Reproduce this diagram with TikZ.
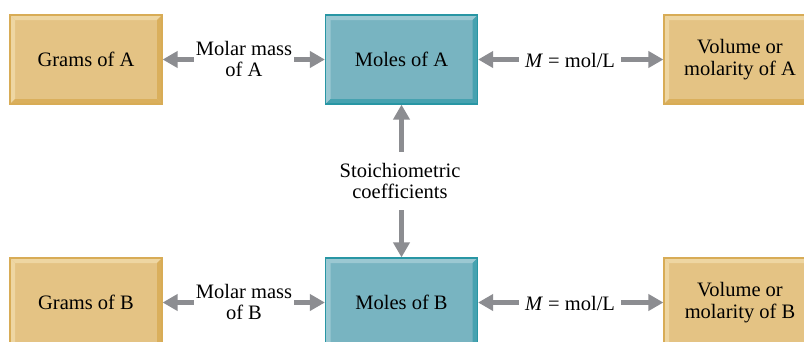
\documentclass[tikz,border=0pt]{standalone}
\usepackage{fontspec}
\setmainfont{Liberation Serif}
\usetikzlibrary{arrows.meta}
\definecolor{gfill}{RGB}{228,195,132}
\definecolor{gborder}{RGB}{216,172,86}
\definecolor{glight}{RGB}{238,214,162}
\definecolor{gdark}{RGB}{218,175,92}
\definecolor{tfill}{RGB}{120,180,193}
\definecolor{tborder}{RGB}{40,150,164}
\definecolor{tlight}{RGB}{155,200,210}
\definecolor{tdark}{RGB}{70,162,176}
\definecolor{arr}{RGB}{140,141,145}
\tikzset{
  bevelbox/.style n args={4}{
    minimum width=152pt, minimum height=89pt, inner sep=0pt,
    fill=#1, draw=#2, line width=1.2pt, align=center,
    path picture={
      \fill[#3] (path picture bounding box.north west) -- (path picture bounding box.north east)
        -- ([xshift=-5pt,yshift=-5pt]path picture bounding box.north east)
        -- ([xshift=5pt,yshift=-5pt]path picture bounding box.north west) -- cycle;
      \fill[#3] (path picture bounding box.north west) -- (path picture bounding box.south west)
        -- ([xshift=5pt,yshift=5pt]path picture bounding box.south west)
        -- ([xshift=5pt,yshift=-5pt]path picture bounding box.north west) -- cycle;
      \fill[#4] (path picture bounding box.south west) -- (path picture bounding box.south east)
        -- ([xshift=-5pt,yshift=5pt]path picture bounding box.south east)
        -- ([xshift=5pt,yshift=5pt]path picture bounding box.south west) -- cycle;
      \fill[#4] (path picture bounding box.north east) -- (path picture bounding box.south east)
        -- ([xshift=-5pt,yshift=5pt]path picture bounding box.south east)
        -- ([xshift=-5pt,yshift=-5pt]path picture bounding box.north east) -- cycle;
    }},
  goldbox/.style={bevelbox={gfill}{gborder}{glight}{gdark}},
  tealbox/.style={bevelbox={tfill}{tborder}{tlight}{tdark}},
  lbl/.style={align=center, inner sep=0pt},
  garrow/.style={draw=arr, line width=5.5pt, -{Triangle[width=16pt,length=15pt]}},
}
\begin{document}
\begin{tikzpicture}[x=1pt,y=-1pt,font=\fontsize{20.5}{21.5}\selectfont]
\useasboundingbox (0,0) rectangle (804,341);
\clip (0,0) rectangle (804,341);
\fill[white] (0,0) rectangle (804,341);
% boxes
\node[goldbox] (ga) at (86,59.5) {Grams of A};
\node[tealbox] (ma) at (401.5,59.5) {Moles of A};
\node[goldbox] (va) at (740,59.5) {Volume or\\molarity of A};
\node[goldbox] (gb) at (86,302.5) {Grams of B};
\node[tealbox] (mb) at (401.5,302.5) {Moles of B};
\node[goldbox] (vb) at (740,302.5) {Volume or\\molarity of B};
% labels
\node[lbl, minimum width=100pt] (mma) at (244,59) {Molar mass\\of A};
\node[lbl, minimum width=100pt] (mmb) at (244,302) {Molar mass\\of B};
\node[lbl, minimum width=102pt] (ra) at (570,60) {\textit{M} = mol/L};
\node[lbl, minimum width=102pt] (rb) at (570,303) {\textit{M} = mol/L};
\node[lbl, minimum height=58pt] (st) at (400,181) {Stoichiometric\\coefficients};
% arrows
\draw[garrow] (ga.east -| mma.west) -- (ga.east);
\draw[garrow] (ma.west -| mma.east) -- (ma.west);
\draw[garrow] (ma.east -| ra.west) -- (ma.east);
\draw[garrow] (va.west -| ra.east) -- (va.west);
\draw[garrow] (gb.east -| mmb.west) -- (gb.east);
\draw[garrow] (mb.west -| mmb.east) -- (mb.west);
\draw[garrow] (mb.east -| rb.west) -- (mb.east);
\draw[garrow] (vb.west -| rb.east) -- (vb.west);
\draw[garrow] (st.north -| ma.south) -- (ma.south);
\draw[garrow] (st.south -| mb.north) -- (mb.north);
\end{tikzpicture}
\end{document}
